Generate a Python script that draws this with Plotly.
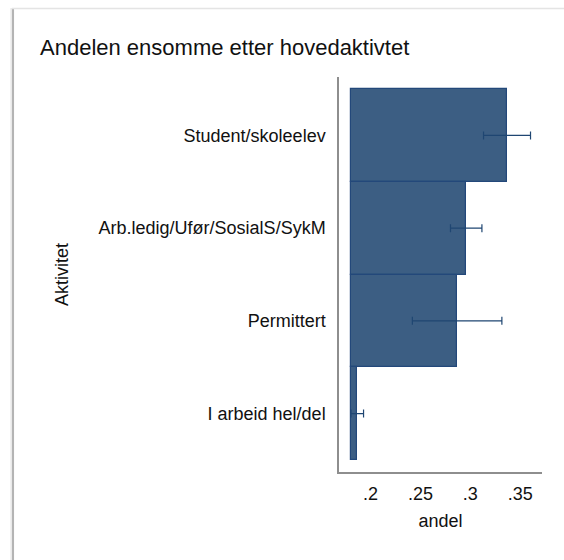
import plotly.graph_objects as go

categories = ["Student/skoleelev", "Arb.ledig/Ufør/SosialS/SykM", "Permittert", "I arbeid hel/del"]
andel = [0.337, 0.2958, 0.2868, 0.1866]
ci_lower = [0.3132, 0.2801, 0.2419, 0.1804]
ci_upper = [0.3603, 0.3116, 0.3316, 0.1930]
bar_base = 0.18
x_ticks = [0.2, 0.25, 0.3, 0.35]
x_tick_labels = [".2", ".25", ".3", ".35"]

W, H = 564, 560
L, R, T, B = 339, 542, 77, 472  # plot area pixel box

def px(x):
    return (x - L) / (R - L)

def py(y):
    return (B - y) / (B - T)

FONT = "Liberation Sans, Arial, sans-serif"
fig = go.Figure()
fig.add_trace(go.Bar(
    y=categories,
    x=[v - bar_base for v in andel],
    base=bar_base,
    orientation="h",
    width=1.0,
    marker=dict(color="#3c5e83", line=dict(color="#23487a", width=1.2)),
    error_x=dict(
        type="data",
        symmetric=False,
        array=[u - v for u, v in zip(ci_upper, andel)],
        arrayminus=[v - l for v, l in zip(andel, ci_lower)],
        color="#1f4672",
        thickness=1.2,
        width=4,
    ),
    hoverinfo="skip",
))

shapes = [
    dict(type="line", xref="paper", yref="paper", x0=px(12.8), x1=px(12.8), y0=py(8), y1=py(570),
         line=dict(color="#b4b4b4", width=2.5)),
    dict(type="line", xref="paper", yref="paper", x0=px(11), x1=px(11), y0=py(8), y1=py(570),
         line=dict(color="#ececec", width=1.5)),
    dict(type="line", xref="paper", yref="paper", x0=px(12), x1=px(570), y0=py(8.5), y1=py(8.5),
         line=dict(color="#e4e4e4", width=1.5)),
]

fig.update_layout(
    width=W, height=H,
    margin=dict(l=L, r=W - R, t=T, b=H - B, pad=0),
    paper_bgcolor="white", plot_bgcolor="white",
    font=dict(family=FONT, size=18, color="#111111"),
    showlegend=False,
    bargap=0,
    shapes=shapes,
    title=dict(text="Andelen ensomme etter hovedaktivtet", x=40 / W, xanchor="left",
               xref="container", y=1 - 47 / H, yanchor="middle", yref="container",
               font=dict(size=22, color="#111111")),
    xaxis=dict(
        range=[0.1684, 0.3718], tickvals=x_ticks, ticktext=x_tick_labels,
        showline=True, linecolor="#8e8e8e", linewidth=1.5, showgrid=False, zeroline=False,
        ticks="", ticklabelstandoff=5,
        title=dict(text="andel", standoff=11, font=dict(size=18)),
    ),
    yaxis=dict(
        categoryorder="array", categoryarray=categories,
        range=[3.63, -0.63],
        showline=True, linecolor="#8e8e8e", linewidth=1.5, showgrid=False, zeroline=False,
        ticks="", ticklabelstandoff=8,
        title=dict(text="Aktivitet", standoff=25, font=dict(size=18)),
    ),
)

fig.write_html("out.html", config={"displayModeBar": False},
               post_script="document.body.style.margin='0px';document.body.style.overflow='hidden';")
